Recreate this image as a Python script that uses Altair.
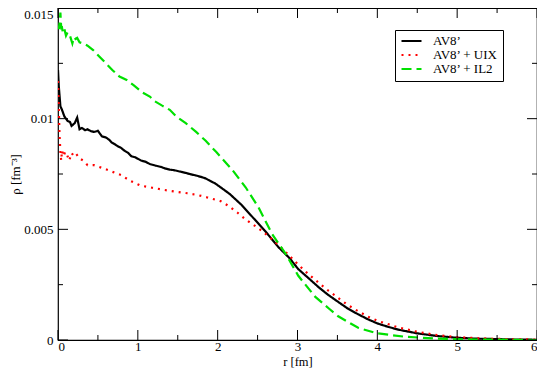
import altair as alt
import pandas as pd

# ---- data ----
series_names = ["AV8\u2019", "AV8\u2019 + UIX", "AV8\u2019 + IL2"]

r_av8 = [0, 0.01, 0.03, 0.05, 0.08, 0.12, 0.15, 0.17, 0.21, 0.24, 0.27, 0.30, 0.34, 0.37,
         0.41, 0.45, 0.5, 0.55, 0.6, 0.64, 0.67, 0.71, 0.75, 0.79, 0.83, 0.88, 0.92, 0.97,
         1.04, 1.1, 1.15, 1.22, 1.29, 1.35, 1.4, 1.47, 1.54, 1.6, 1.65, 1.72, 1.79, 1.85,
         1.9, 1.97, 2.04, 2.15, 2.3, 2.45, 2.6, 2.76, 2.9, 3.01, 3.13, 3.26, 3.38, 3.51,
         3.63, 3.76, 3.88, 4.0, 4.13, 4.26, 4.5, 4.75, 5.0, 5.25, 5.5, 5.75, 6.0]
rho_av8 = [0.0122, 0.01145, 0.01056, 0.0104, 0.0101, 0.0099, 0.00985, 0.00967, 0.0098,
           0.01005, 0.00952, 0.00958, 0.00948, 0.00952, 0.00944, 0.0094, 0.00945, 0.0092,
           0.00915, 0.00905, 0.00893, 0.00885, 0.00875, 0.00868, 0.00856, 0.00845, 0.0083,
           0.00825, 0.00811, 0.00805, 0.00795, 0.00788, 0.00782, 0.00774, 0.0077, 0.00766,
           0.0076, 0.00755, 0.0075, 0.00744, 0.00737, 0.0073, 0.0072, 0.00707, 0.00689,
           0.0066, 0.0061, 0.0055, 0.0049, 0.0042, 0.0037, 0.0032, 0.00282, 0.0024,
           0.00205, 0.00172, 0.00142, 0.00116, 0.00094, 0.00075, 0.0006, 0.00047, 0.0003,
           0.00018, 0.0001, 0.00006, 0.00004, 0.00002, 0.00001]

r_uix = [0, 0.005, 0.01, 0.015, 0.02, 0.03, 0.04, 0.05, 0.07, 0.09, 0.11, 0.14, 0.17,
         0.2, 0.23, 0.27, 0.32, 0.37, 0.45, 0.58, 0.68, 0.79, 0.9, 1.04, 1.18, 1.33,
         1.48, 1.62, 1.75, 1.87, 2.04, 2.14, 2.25, 2.35, 2.45, 2.55, 2.65, 2.76, 2.9,
         3.01, 3.13, 3.26, 3.39, 3.51, 3.63, 3.76, 3.88, 4.0, 4.26, 4.5, 4.75, 5.0, 5.25,
         5.5, 5.75, 6.0]
rho_uix = [0.0117, 0.0112, 0.0105, 0.0098, 0.0092, 0.0085, 0.0081, 0.00856, 0.0083,
           0.0085, 0.0084, 0.0081, 0.00845, 0.0083, 0.0084, 0.0082, 0.0081, 0.0079,
           0.0079, 0.00774, 0.0076, 0.00745, 0.0072, 0.00697, 0.00688, 0.00678, 0.0067,
           0.00663, 0.00655, 0.00644, 0.00627, 0.00605, 0.00575, 0.00544, 0.0052,
           0.00494, 0.00465, 0.0043, 0.0038, 0.0034, 0.003, 0.0026, 0.00222, 0.0019,
           0.00158, 0.0013, 0.00106, 0.00087, 0.00057, 0.00037, 0.00022, 0.00013,
           0.00008, 0.00005, 0.00003, 0.00002]

r_il2 = [0, 0.01, 0.02, 0.03, 0.04, 0.05, 0.06, 0.08, 0.1, 0.12, 0.15, 0.18, 0.2, 0.22,
         0.24, 0.27, 0.31, 0.37, 0.44, 0.52, 0.6, 0.68, 0.77, 0.86, 0.95, 1.05, 1.15,
         1.21, 1.3, 1.4, 1.48, 1.6, 1.73, 1.85, 1.98, 2.08, 2.18, 2.35, 2.51, 2.68, 2.85,
         3.01, 3.22, 3.4, 3.51, 3.76, 4.0, 4.34, 4.75, 5.25, 6.0]
rho_il2 = [0.0142, 0.01405, 0.0143, 0.01479, 0.0141, 0.01412, 0.0139, 0.01405, 0.01375,
           0.0139, 0.01375, 0.0134, 0.01368, 0.0136, 0.01365, 0.01345, 0.0134, 0.0133,
           0.0131, 0.0128, 0.0125, 0.0122, 0.0119, 0.01175, 0.0115, 0.0112, 0.011,
           0.01079, 0.0106, 0.0104, 0.0101, 0.0098, 0.0094, 0.009, 0.0085, 0.0081,
           0.0077, 0.0069, 0.006, 0.0048, 0.0039, 0.0029, 0.00196, 0.0014, 0.00107,
           0.00055, 0.0003, 0.00015, 0.00006, 0.00002, 0.0]

x_major = [0, 1, 2, 3, 4, 5, 6]
x_minor = [0.5, 1.5, 2.5, 3.5, 4.5, 5.5]
y_major = [0, 0.005, 0.01, 0.015]
y_minor = [0.0025, 0.0075, 0.0125]

colors = ["#000000", "#ff0000", "#00e000"]
dashes = [[1, 0], [2, 5], [10, 5]]

W, H = 479, 332
FONT = "Liberation Serif, Times New Roman, serif"

rows = []
for name, rs, ys in zip(series_names, [r_av8, r_uix, r_il2], [rho_av8, rho_uix, rho_il2]):
    for a, b in zip(rs, ys):
        rows.append({"series": name, "r": a, "rho": b})
df = pd.DataFrame(rows)

xscale = alt.Scale(domain=[0, 6], nice=False, zero=False)
yscale = alt.Scale(domain=[0, 0.015], nice=False, zero=False)

lines = alt.Chart(df).mark_line(strokeWidth=2.2, strokeCap="butt", clip=True).encode(
    x=alt.X("r:Q", scale=xscale,
            axis=alt.Axis(values=x_major, format="d", ticks=False, domain=False,
                          grid=False, title="r [fm]", labelPadding=0,
                          titleBaseline="alphabetic", titleY=25.5,
                          labelFont=FONT, titleFont=FONT, labelFontSize=13,
                          titleFontSize=12.5, titleFontWeight="normal",
                          labelColor="black", titleColor="black")),
    y=alt.Y("rho:Q", scale=yscale,
            axis=alt.Axis(values=y_major, format=".3~f", ticks=False, domain=False,
                          grid=False, title="\u03c1  [fm\u207b\u00b3]", labelPadding=5,
                          labelBaseline={"condition": {"test": "datum.value >= 0.015",
                                                       "value": "top"},
                                         "value": "middle"},
                          titlePadding=1, labelFont=FONT, titleFont=FONT,
                          labelFontSize=13, titleFontSize=13, titleFontWeight="normal",
                          labelColor="black", titleColor="black")),
    color=alt.Color("series:N", scale=alt.Scale(domain=series_names, range=colors),
                    legend=alt.Legend(title=None, orient="none", legendX=337, legendY=22,
                                      symbolType="stroke", symbolSize=400,
                                      symbolStrokeWidth=2.2, labelFont=FONT,
                                      labelFontSize=13, labelOffset=10, padding=5,
                                      rowPadding=1, clipHeight=12, strokeColor="black",
                                      fillColor="white", labelColor="black",
                                      labelLimit=200)),
    strokeDash=alt.StrokeDash("series:N",
                              scale=alt.Scale(domain=series_names, range=dashes),
                              legend=alt.Legend(title=None, orient="none",
                                                legendX=337, legendY=22)),
    order="r:Q",
)

def xticks(vals, length, bottom=True):
    d = pd.DataFrame({"r": vals})
    if bottom:
        enc = dict(y=alt.value(H), y2=alt.value(H - length))
    else:
        enc = dict(y=alt.value(0), y2=alt.value(length))
    return alt.Chart(d).mark_rule(color="black", strokeWidth=1).encode(
        x=alt.X("r:Q", scale=xscale), **enc)

def yticks(vals, length, left=True):
    d = pd.DataFrame({"rho": vals})
    if left:
        enc = dict(x=alt.value(0), x2=alt.value(length))
    else:
        enc = dict(x=alt.value(W), x2=alt.value(W - length))
    return alt.Chart(d).mark_rule(color="black", strokeWidth=1).encode(
        y=alt.Y("rho:Q", scale=yscale), **enc)

tick_layers = [
    xticks(x_major, 10, True), xticks(x_minor, 5, True),
    xticks(x_major, 10, False), xticks(x_minor, 5, False),
    yticks(y_major, 10, True), yticks(y_minor, 5, True),
    yticks(y_major, 10, False), yticks(y_minor, 5, False),
]

chart = alt.layer(lines, *tick_layers).properties(
    width=W, height=H,
    background="white",
    autosize=alt.AutoSizeParams(type="none"),
    padding={"left": 50, "top": 0, "right": 0, "bottom": 28},
).configure_view(stroke="black", strokeWidth=1.2)

chart.save("out.html", embed_options={"renderer": "svg", "actions": False})
